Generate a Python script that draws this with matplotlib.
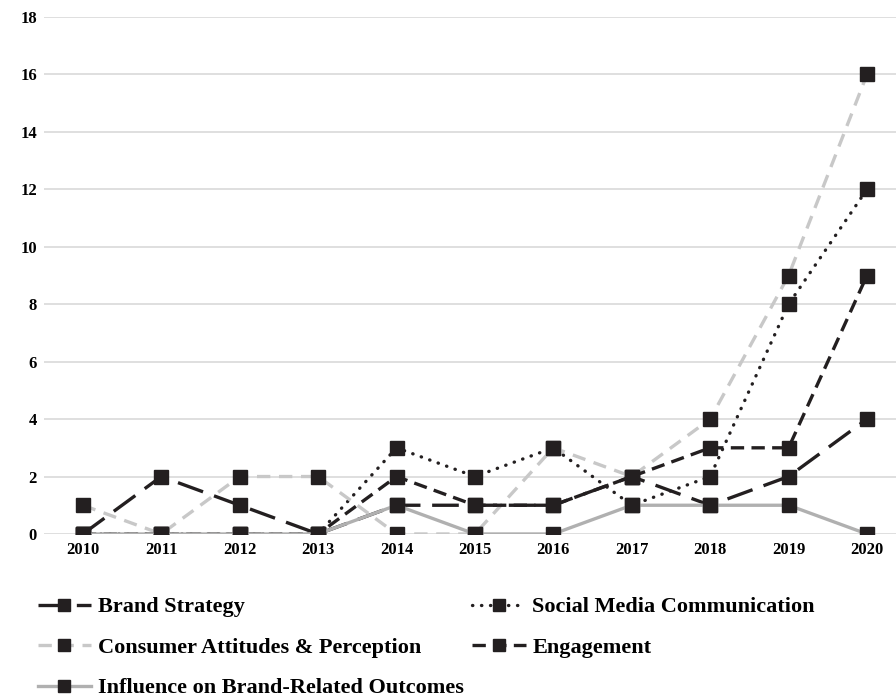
import matplotlib.pyplot as plt
import numpy as np

years = [2010, 2011, 2012, 2013, 2014, 2015, 2016, 2017, 2018, 2019, 2020]
brand_strategy = [0, 2, 1, 0, 1, 1, 1, 2, 1, 2, 4]
social_media = [0, 0, 0, 0, 3, 2, 3, 1, 2, 8, 12]
consumer_attitudes = [1, 0, 2, 2, 0, 0, 3, 2, 4, 9, 16]
engagement = [0, 0, 0, 0, 2, 1, 1, 2, 3, 3, 9]
influence = [0, 0, 0, 0, 1, 0, 0, 1, 1, 1, 0]
y_ticks = [0, 2, 4, 6, 8, 10, 12, 14, 16, 18]

plt.rcParams['font.family'] = ['Liberation Serif', 'DejaVu Serif']
plt.rcParams['font.weight'] = 'bold'

fig = plt.figure(figsize=(8.96, 6.98), dpi=100)
ax = fig.add_axes([0.049, 0.235, 0.951, 0.7406])

mk = '#231f20'
series = [
    ('Brand Strategy', brand_strategy, '#231f20', (8, 3.5)),
    ('Social Media Communication', social_media, '#231f20', (0.1, 2.6)),
    ('Consumer Attitudes & Perception', consumer_attitudes, '#c8c8c8', (4, 2.6)),
    ('Engagement', engagement, '#231f20', (4, 2.2)),
    ('Influence on Brand-Related Outcomes', influence, '#b0b0b0', None),
]

x = np.arange(len(years))
handles = []
for name, vals, col, dash in series:
    kw = dict(color=col, lw=2.4, marker='s', markersize=10,
              markerfacecolor=mk, markeredgecolor=mk, label=name)
    if dash is not None:
        line, = ax.plot(x, vals, dashes=dash,
                        dash_capstyle='round' if dash[0] < 1 else 'butt', **kw)
    else:
        line, = ax.plot(x, vals, **kw)
    handles.append(line)

ax.set_xlim(-0.497, 10.37)
ax.set_ylim(0, 18)
ax.set_yticks(y_ticks)
ax.set_xticks(x)
ax.set_xticklabels([str(y) for y in years])
ax.grid(axis='y', color='#d9d9d9', lw=1.2)
ax.set_axisbelow(True)
for s in ax.spines.values():
    s.set_visible(False)
ax.tick_params(length=0, labelsize=12)
ax.tick_params(axis='y', pad=5)
ax.tick_params(axis='x', pad=6)

# legend is filled column by column, so reorder to read row by row
order = [0, 2, 4, 1, 3]
fig.legend([handles[i] for i in order], [series[i][0] for i in order],
           loc='upper left', bbox_to_anchor=(0.042, 0.145), ncol=2, frameon=False,
           fontsize=16, handlelength=2.4, handletextpad=0.3, labelspacing=0.9,
           columnspacing=0.4, markerscale=0.85, borderaxespad=0, borderpad=0)

fig.savefig('out.png', dpi=100)
